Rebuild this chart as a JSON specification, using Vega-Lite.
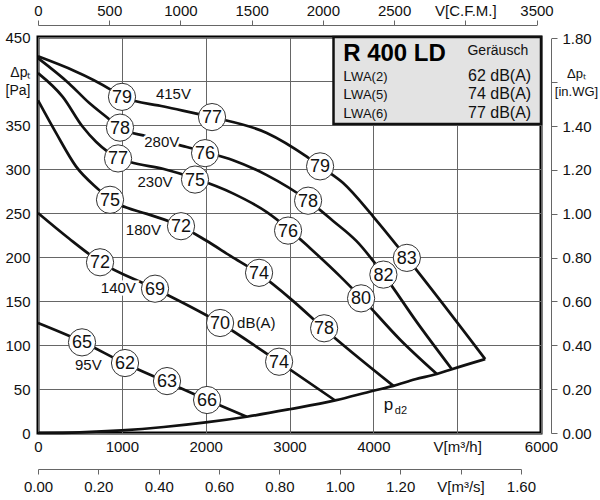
{
  "$schema": "https://vega.github.io/schema/vega-lite/v6.json",
  "autosize": {"type": "none"},
  "padding": {"left": 38, "top": 37, "right": 59, "bottom": 67},
  "width": 503,
  "height": 396,
  "datasets": {
    "curves": [
      {"series": "415V", "x": 0, "y": 428}, {"series": "415V", "x": 871, "y": 390}, {"series": "415V", "x": 1002, "y": 382},
      {"series": "415V", "x": 1500, "y": 371}, {"series": "415V", "x": 2076, "y": 359}, {"series": "415V", "x": 2729, "y": 341},
      {"series": "415V", "x": 3206, "y": 314}, {"series": "415V", "x": 3365, "y": 303}, {"series": "415V", "x": 3640, "y": 284},
      {"series": "415V", "x": 3998, "y": 246}, {"series": "415V", "x": 4400, "y": 199}, {"series": "415V", "x": 5334, "y": 84},
      {"series": "280V", "x": 0, "y": 426}, {"series": "280V", "x": 373, "y": 397}, {"series": "280V", "x": 612, "y": 375},
      {"series": "280V", "x": 832, "y": 358}, {"series": "280V", "x": 970, "y": 347}, {"series": "280V", "x": 1297, "y": 337},
      {"series": "280V", "x": 1774, "y": 325}, {"series": "280V", "x": 2013, "y": 319}, {"series": "280V", "x": 2327, "y": 310},
      {"series": "280V", "x": 2729, "y": 293}, {"series": "280V", "x": 3222, "y": 264}, {"series": "280V", "x": 3520, "y": 241},
      {"series": "280V", "x": 3800, "y": 218}, {"series": "280V", "x": 4123, "y": 180}, {"series": "280V", "x": 4519, "y": 126},
      {"series": "280V", "x": 4937, "y": 72.5},
      {"series": "230V", "x": 0, "y": 409}, {"series": "230V", "x": 295, "y": 382}, {"series": "230V", "x": 533, "y": 348},
      {"series": "230V", "x": 692, "y": 331}, {"series": "230V", "x": 949, "y": 313}, {"series": "230V", "x": 1098, "y": 308},
      {"series": "230V", "x": 1500, "y": 300}, {"series": "230V", "x": 1850, "y": 290}, {"series": "230V", "x": 2331, "y": 272},
      {"series": "230V", "x": 2729, "y": 251}, {"series": "230V", "x": 2987, "y": 232}, {"series": "230V", "x": 3246, "y": 210},
      {"series": "230V", "x": 3604, "y": 178}, {"series": "230V", "x": 3863, "y": 153}, {"series": "230V", "x": 4320, "y": 106},
      {"series": "230V", "x": 4758, "y": 67},
      {"series": "180V", "x": 0, "y": 378}, {"series": "180V", "x": 215, "y": 341}, {"series": "180V", "x": 453, "y": 303},
      {"series": "180V", "x": 731, "y": 276}, {"series": "180V", "x": 859, "y": 265}, {"series": "180V", "x": 978, "y": 259},
      {"series": "180V", "x": 1300, "y": 249}, {"series": "180V", "x": 1706, "y": 235}, {"series": "180V", "x": 2000, "y": 219},
      {"series": "180V", "x": 2300, "y": 201}, {"series": "180V", "x": 2637, "y": 181}, {"series": "180V", "x": 3031, "y": 151},
      {"series": "180V", "x": 3405, "y": 119}, {"series": "180V", "x": 4240, "y": 53.5},
      {"series": "140V", "x": 0, "y": 250}, {"series": "140V", "x": 370, "y": 221}, {"series": "140V", "x": 740, "y": 194.5},
      {"series": "140V", "x": 1396, "y": 164}, {"series": "140V", "x": 2172, "y": 125}, {"series": "140V", "x": 2868, "y": 81},
      {"series": "140V", "x": 3544, "y": 37},
      {"series": "95V", "x": 0, "y": 125}, {"series": "95V", "x": 521, "y": 104}, {"series": "95V", "x": 1038, "y": 79},
      {"series": "95V", "x": 1536, "y": 58}, {"series": "95V", "x": 2020, "y": 37.5}, {"series": "95V", "x": 2490, "y": 18.5},
      {"series": "pd2", "x": 0, "y": 0}, {"series": "pd2", "x": 500, "y": 0.8}, {"series": "pd2", "x": 1000, "y": 3},
      {"series": "pd2", "x": 1500, "y": 6.8}, {"series": "pd2", "x": 2000, "y": 12}, {"series": "pd2", "x": 2490, "y": 18.5},
      {"series": "pd2", "x": 3000, "y": 27}, {"series": "pd2", "x": 3544, "y": 37}, {"series": "pd2", "x": 4000, "y": 48},
      {"series": "pd2", "x": 4240, "y": 53.5}, {"series": "pd2", "x": 4500, "y": 61}, {"series": "pd2", "x": 4758, "y": 67},
      {"series": "pd2", "x": 4937, "y": 72.5}, {"series": "pd2", "x": 5334, "y": 84}
    ],
    "bubbles": [
      {"x": 1002, "y": 382, "db": "79"}, {"x": 2076, "y": 359, "db": "77"}, {"x": 3365, "y": 303, "db": "79"}, {"x": 4400, "y": 199, "db": "83"},
      {"x": 978, "y": 347, "db": "78"}, {"x": 1993, "y": 318, "db": "76"}, {"x": 3222, "y": 264, "db": "78"}, {"x": 4120, "y": 180, "db": "82"},
      {"x": 955, "y": 312, "db": "77"}, {"x": 1873, "y": 288, "db": "75"}, {"x": 2983, "y": 230, "db": "76"}, {"x": 3854, "y": 153, "db": "80"},
      {"x": 859, "y": 265, "db": "75"}, {"x": 1706, "y": 235, "db": "72"}, {"x": 2637, "y": 182, "db": "74"}, {"x": 3413, "y": 119, "db": "78"},
      {"x": 740, "y": 194, "db": "72"}, {"x": 1396, "y": 164, "db": "69"}, {"x": 2172, "y": 125, "db": "70"}, {"x": 2876, "y": 81, "db": "74"},
      {"x": 525, "y": 103, "db": "65"}, {"x": 1038, "y": 79.5, "db": "62"}, {"x": 1539, "y": 59, "db": "63"}, {"x": 2017, "y": 37.5, "db": "66"}
    ],
    "voltages": [
      {"x": 1615, "y": 385, "label": "415V"},
      {"x": 1476, "y": 331, "label": "280V"},
      {"x": 1396, "y": 285.6, "label": "230V"},
      {"x": 1257, "y": 230.7, "label": "180V"},
      {"x": 958, "y": 164.4, "label": "140V"},
      {"x": 600, "y": 77.3, "label": "95V"}
    ],
    "box": [{"x": 3525, "x2": 6000, "y": 351, "y2": 450}],
    "rows": [
      {"x": 3640, "y": 400.3, "x_sub": 3735, "right": 5883, "label": "L", "sub": "WA(2)", "level": "62 dB(A)"},
      {"x": 3640, "y": 379, "x_sub": 3735, "right": 5883, "label": "L", "sub": "WA(5)", "level": "74 dB(A)"},
      {"x": 3640, "y": 357.4, "x_sub": 3735, "right": 5883, "label": "L", "sub": "WA(6)", "level": "77 dB(A)"}
    ]
  },
  "layer": [
    {
      "encoding": {
        "x": {
          "field": "x",
          "type": "quantitative",
          "scale": {"domain": [0, 6000], "nice": false, "zero": false},
          "axis": {
            "orient": "bottom",
            "values": [0, 1000, 2000, 3000, 4000, 5000, 6000],
            "format": "d",
            "labelExpr": "datum.value == 5000 ? 'V[m³/h]' : datum.label",
            "domain": false,
            "ticks": false,
            "tickSize": 0,
            "labelPadding": 6,
            "labelFlush": false,
            "labelOverlap": false,
            "grid": true,
            "gridColor": "#666",
            "gridWidth": 1,
            "title": null
          }
        },
        "y": {
          "field": "y",
          "type": "quantitative",
          "scale": {"domain": [0, 450], "nice": false, "zero": false},
          "axis": {
            "orient": "left",
            "values": [0, 50, 100, 150, 200, 250, 300, 350, 400, 450],
            "format": "d",
            "labelExpr": "datum.value == 400 ? ['Δpₜ', '[Pa]'] : datum.label",
            "labelLineHeight": 18,
            "labelFontSize": {"condition": {"test": "datum.value == 400", "value": 14}, "value": 15},
            "labelOffset": {"condition": {"test": "datum.value == 400", "value": -9}, "value": 0},
            "domain": false,
            "ticks": false,
            "tickSize": 0,
            "labelPadding": 8,
            "labelFlush": false,
            "labelOverlap": false,
            "grid": true,
            "gridColor": "#666",
            "gridWidth": 1,
            "title": null
          }
        }
      },
      "layer": [
        {
          "data": {"name": "box"},
          "mark": {"type": "rect", "fill": "#e3e3e3", "stroke": "#111", "strokeWidth": 2.5},
          "encoding": {"x2": {"field": "x2"}, "y2": {"field": "y2"}}
        },
        {
          "data": {"name": "curves"},
          "mark": {"type": "line", "color": "#111", "strokeWidth": 2.7, "interpolate": "monotone"},
          "encoding": {"detail": {"field": "series"}}
        },
        {
          "data": {"name": "voltages"},
          "mark": {"type": "text", "fontSize": 15, "fill": "white", "stroke": "white", "strokeWidth": 5, "align": "center", "baseline": "middle"},
          "encoding": {"text": {"field": "label"}}
        },
        {
          "data": {"name": "voltages"},
          "mark": {"type": "text", "fontSize": 15, "color": "#111", "align": "center", "baseline": "middle"},
          "encoding": {"text": {"field": "label"}}
        },
        {
          "data": {"values": [{"x": 2375, "y": 125, "label": "dB(A)"}]},
          "mark": {"type": "text", "fontSize": 15, "color": "#111", "align": "left", "baseline": "middle"},
          "encoding": {"text": {"field": "label"}}
        },
        {
          "data": {"name": "bubbles"},
          "mark": {"type": "point", "shape": "circle", "filled": true, "fill": "white", "stroke": "#333", "strokeWidth": 1, "size": 740, "opacity": 1},
          "encoding": {}
        },
        {
          "data": {"name": "bubbles"},
          "mark": {"type": "text", "fontSize": 18, "color": "#111", "align": "center", "baseline": "middle", "dy": 1},
          "encoding": {"text": {"field": "db"}}
        },
        {
          "data": {"values": [{"x": 3640, "y": 423, "label": "R 400 LD"}]},
          "mark": {"type": "text", "fontSize": 24, "fontWeight": "bold", "color": "#000", "align": "left", "baseline": "alphabetic"},
          "encoding": {"text": {"field": "label"}}
        },
        {
          "data": {"values": [{"x": 5847, "y": 430, "label": "Geräusch"}]},
          "mark": {"type": "text", "fontSize": 14, "color": "#111", "align": "right", "baseline": "alphabetic"},
          "encoding": {"text": {"field": "label"}}
        },
        {
          "data": {"name": "rows"},
          "mark": {"type": "text", "fontSize": 15, "color": "#111", "align": "left", "baseline": "alphabetic"},
          "encoding": {"text": {"field": "label"}}
        },
        {
          "data": {"name": "rows"},
          "mark": {"type": "text", "fontSize": 13, "color": "#111", "align": "left", "baseline": "alphabetic"},
          "encoding": {"x": {"field": "x_sub", "type": "quantitative"}, "text": {"field": "sub"}}
        },
        {
          "data": {"name": "rows"},
          "mark": {"type": "text", "fontSize": 16, "color": "#111", "align": "right", "baseline": "alphabetic"},
          "encoding": {"x": {"field": "right", "type": "quantitative"}, "text": {"field": "level"}}
        },
        {
          "data": {"values": [{"x": 4181, "y": 31.8, "label": "p"}]},
          "mark": {"type": "text", "fontSize": 17, "color": "#111", "align": "center", "baseline": "middle"},
          "encoding": {"text": {"field": "label"}}
        },
        {
          "data": {"values": [{"x": 4330, "y": 25, "label": "d2"}]},
          "mark": {"type": "text", "fontSize": 11, "color": "#111", "align": "center", "baseline": "middle"},
          "encoding": {"text": {"field": "label"}}
        }
      ]
    },
    {
      "data": {"values": [{"cfm": 0}]},
      "mark": {"type": "point", "opacity": 0},
      "encoding": {
        "x": {
          "field": "cfm",
          "type": "quantitative",
          "scale": {"domain": [0, 3500], "range": [0, 498.5], "nice": false, "zero": false},
          "axis": {
            "orient": "top",
            "offset": 12,
            "values": [0, 500, 1000, 1500, 2000, 2500, 3000, 3500],
            "format": "d",
            "labelExpr": "datum.value == 3000 ? 'V[C.F.M.]' : datum.label",
            "domainColor": "#666",
            "tickColor": "#666",
            "tickSize": 5,
            "labelPadding": 2,
            "labelFlush": false,
            "labelOverlap": false,
            "grid": false,
            "title": null
          }
        }
      }
    },
    {
      "data": {"values": [{"ms": 0}]},
      "mark": {"type": "point", "opacity": 0},
      "encoding": {
        "x": {
          "field": "ms",
          "type": "quantitative",
          "scale": {"domain": [0, 1.6], "range": [0, 482.9], "nice": false, "zero": false},
          "axis": {
            "orient": "bottom",
            "offset": 36,
            "values": [0, 0.2, 0.4, 0.6, 0.8, 1, 1.2, 1.4, 1.6],
            "format": ".2f",
            "labelExpr": "datum.value == 1.4 ? 'V[m³/s]' : datum.label",
            "domainColor": "#666",
            "tickColor": "#666",
            "tickSize": 5,
            "labelPadding": 5,
            "labelFlush": false,
            "labelOverlap": false,
            "grid": false,
            "title": null
          }
        }
      }
    },
    {
      "data": {"values": [{"wg": 0}]},
      "mark": {"type": "point", "opacity": 0},
      "encoding": {
        "y": {
          "field": "wg",
          "type": "quantitative",
          "scale": {"domain": [0, 1.8], "range": [396, 1.44], "nice": false, "zero": false},
          "axis": {
            "orient": "right",
            "offset": 10,
            "values": [0, 0.2, 0.4, 0.6, 0.8, 1, 1.2, 1.4, 1.6, 1.8],
            "format": ".2f",
            "labelExpr": "datum.value == 1.6 ? ['Δpₜ', '[in.WG]'] : datum.label",
            "labelLineHeight": 18,
            "labelAlign": {"condition": {"test": "datum.value == 1.6", "value": "center"}, "value": "left"},
            "labelPadding": {"condition": {"test": "datum.value == 1.6", "value": 19}, "value": 5},
            "labelFontSize": {"condition": {"test": "datum.value == 1.6", "value": 13}, "value": 15},
            "labelOffset": {"condition": {"test": "datum.value == 1.6", "value": -9}, "value": 0},
            "domainColor": "#666",
            "tickColor": "#666",
            "tickSize": 6,
            "labelFlush": false,
            "labelOverlap": false,
            "grid": false,
            "title": null
          }
        }
      }
    }
  ],
  "resolve": {"scale": {"x": "independent", "y": "independent"}},
  "config": {
    "font": "Liberation Sans",
    "view": {"stroke": "#000", "strokeWidth": 3},
    "axis": {"labelFont": "Liberation Sans", "labelFontSize": 15, "labelColor": "#111"},
    "text": {"font": "Liberation Sans"}
  }
}
